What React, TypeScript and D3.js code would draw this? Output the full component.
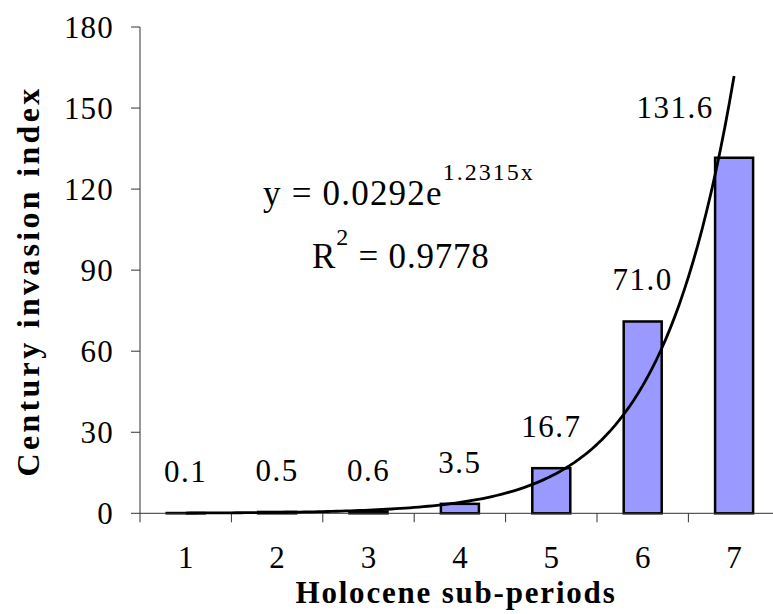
import React from "react";
import * as d3 from "d3";

const categories = ["1", "2", "3", "4", "5", "6", "7"];
const values = [0.1, 0.5, 0.6, 3.5, 16.7, 71.0, 131.6];
const valueLabels = ["0.1", "0.5", "0.6", "3.5", "16.7", "71.0", "131.6"];
const yTicks = [0, 30, 60, 90, 120, 150, 180];
// Exponential trendline coefficients as printed on the chart
const trendA = 0.0292;
const trendB = 1.2315;
const trendX = d3.range(1, 7.0001, 0.05);

const W = 773;
const H = 614;
const FONT = "'Liberation Serif', 'Times New Roman', serif";

export default function App() {
  const left = 140;
  const bw = 91.4;
  const x = d3.scaleBand<string>().domain(categories).range([left, left + bw * categories.length]).padding(0);
  const y = d3.scaleLinear().domain([0, 180]).range([513.3, 27]);
  const barW = 38;
  const center = (c: string) => (x(c) as number) + x.bandwidth() / 2;
  const xLin = d3.scaleLinear().domain([1, 7]).range([center("1"), center("7")]);
  const trendPts: [number, number][] = trendX.map((v) => [xLin(v), y(trendA * Math.exp(trendB * v))]);
  const line = d3.line<[number, number]>().x((d) => d[0]).y((d) => d[1]);
  const y0 = y(0);
  const axisColor = "#333";
  const bounds = [...categories.map((c) => x(c) as number), left + bw * categories.length];

  return (
    <div style={{ position: "absolute", left: 0, top: 0 }}>
      <svg width={W} height={H} style={{ display: "block", background: "#fff" }} fontFamily={FONT}>
        {/* bars */}
        {categories.map((c, i) => (
          <rect
            key={c}
            x={center(c) - barW / 2}
            y={y(values[i])}
            width={barW}
            height={y0 - y(values[i])}
            fill="#9999ff"
            stroke="#000"
            strokeWidth={2.5}
          />
        ))}
        {/* y axis */}
        <line x1={left} x2={left} y1={y(180)} y2={y0} stroke={axisColor} strokeWidth={1} />
        {yTicks.map((t) => (
          <g key={t}>
            <line x1={left - 9} x2={left} y1={y(t)} y2={y(t)} stroke={axisColor} strokeWidth={1} />
            <text x={114} y={y(t)} dy="0.35em" textAnchor="end" fontSize={31} letterSpacing={1.2} fill="#000">
              {t}
            </text>
          </g>
        ))}
        {/* x axis */}
        <line x1={left} x2={left + bw * categories.length} y1={y0} y2={y0} stroke={axisColor} strokeWidth={1} />
        {bounds.map((b, i) => (
          <line key={i} x1={b} x2={b} y1={y0} y2={y0 + 9} stroke={axisColor} strokeWidth={1} />
        ))}
        {categories.map((c) => (
          <text key={c} x={center(c)} y={568} textAnchor="middle" fontSize={31} fill="#000">
            {c}
          </text>
        ))}
        {/* trendline */}
        <path d={line(trendPts) || ""} fill="none" stroke="#000" strokeWidth={2.8} strokeLinejoin="round" />
        {/* value labels */}
        {categories.map((c, i) => {
          const last = i === categories.length - 1;
          return (
            <text
              key={c}
              x={center(c) + (last ? -59 : 0)}
              y={y(values[i]) - (last ? 40 : 31)}
              textAnchor="middle"
              fontSize={31}
              letterSpacing={1.5}
              fill="#000"
            >
              {valueLabels[i]}
            </text>
          );
        })}
        {/* equation */}
        <text x={263} y={205} fontSize={35} letterSpacing={1.2} fill="#000">
          y = 0.0292e
          <tspan fontSize={24} dy={-25} letterSpacing={2}>{trendB.toFixed(4)}x</tspan>
        </text>
        <text x={312} y={268} fontSize={35} letterSpacing={0.8} fill="#000">
          R<tspan fontSize={24} dy={-23}>2</tspan>
          <tspan dy={23}> = 0.9778</tspan>
        </text>
        {/* axis titles */}
        <text
          transform={`translate(39, 281) rotate(-90)`}
          textAnchor="middle"
          fontSize={32}
          fontWeight="bold"
          letterSpacing={3.3}
          fill="#000"
        >
          Century invasion index
        </text>
        <text x={456} y={603} textAnchor="middle" fontSize={31} fontWeight="bold" letterSpacing={1.8} fill="#000">
          Holocene sub-periods
        </text>
      </svg>
    </div>
  );
}
